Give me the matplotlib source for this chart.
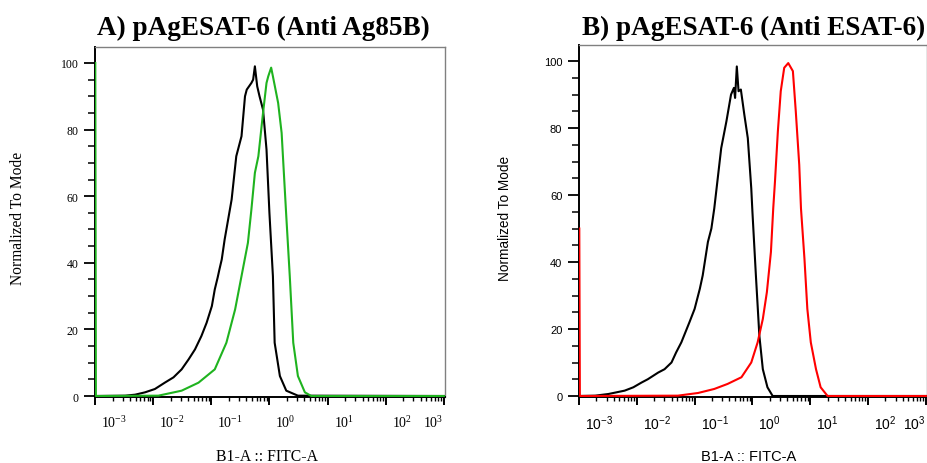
import numpy as np
import matplotlib
matplotlib.use("Agg")
import matplotlib.pyplot as plt
import matplotlib.transforms as mtransforms
from matplotlib.ticker import FixedLocator, LogLocator, NullFormatter, MultipleLocator

# ---------------- data (x as log10 of FITC intensity, y = % of mode) ----------------
a_ctrl_logx = [-3.0, -2.48, -2.31, -2.14, -1.97, -1.80, -1.65, -1.51, -1.39, -1.28, -1.17,
               -1.08, -0.99, -0.94, -0.89, -0.86, -0.82, -0.77, -0.74, -0.71, -0.65, -0.57,
               -0.48, -0.42, -0.39, -0.31, -0.28, -0.25, -0.21, -0.17, -0.11, -0.05, 0.0,
               0.06, 0.09, 0.18, 0.29, 0.49, 3.0]
a_ctrl_y = [0, 0.1, 0.4, 1.1, 2.1, 4, 5.6, 8, 11, 14, 18,
            22, 27, 32, 35.6, 38, 41, 47, 50, 53, 59, 72,
            78, 90, 92, 94, 95, 99, 93, 90, 86, 74, 55,
            36, 16, 6, 1.6, 0.1, 0]

a_ag85b_logx = [-2.995, -2.985, -1.91, -1.51, -1.22, -0.94, -0.74, -0.59, -0.48, -0.37, -0.31,
                -0.25, -0.19, -0.11, -0.05, -0.02, 0.03, 0.06, 0.15, 0.21, 0.29, 0.35,
                0.41, 0.49, 0.61, 0.72, 3.0]
a_ag85b_y = [100, 0, 0.1, 1.6, 4, 8, 16, 26, 36, 46, 56,
             67, 72, 85, 94, 96, 98.6, 96, 88, 79, 54, 36,
             16, 6, 1.1, 0, 0]

b_ctrl_logx = [-3.0, -2.72, -2.49, -2.21, -2.06, -1.92, -1.81, -1.63, -1.52, -1.40, -1.32,
               -1.23, -1.09, -1.0, -0.91, -0.86, -0.77, -0.71, -0.66, -0.60, -0.54, -0.45,
               -0.37, -0.32, -0.30, -0.27, -0.24, -0.20, -0.14, -0.08, -0.02, 0.0,
               0.06, 0.12, 0.18, 0.26, 0.35, 3.0]
b_ctrl_y = [0, 0.1, 0.6, 1.6, 2.6, 4, 5, 7, 8, 10, 13,
            16, 22, 26, 32, 36, 46, 50, 56, 65, 74, 82,
            90, 92, 89, 98.4, 91, 91.5, 84, 77, 62, 55,
            36, 18, 8, 2.6, 0, 0]

b_esat6_logx = [-2.995, -2.985, -1.29, -0.94, -0.66, -0.43, -0.19, -0.02, 0.09, 0.18, 0.25,
                0.32, 0.36, 0.39, 0.44, 0.49, 0.55, 0.62, 0.70, 0.75, 0.81, 0.84,
                0.90, 0.95, 1.01, 1.10, 1.18, 1.30, 3.0]
b_esat6_y = [50, 0, 0.1, 0.9, 2.1, 3.6, 5.6, 10, 16, 23, 31,
             43, 56, 64, 79, 91, 98, 99.4, 97, 85, 69, 56,
             41, 26, 16, 8, 2.6, 0, 0]

titles = ["A) pAgESAT-6 (Anti Ag85B)", "B) pAgESAT-6 (Anti ESAT-6)"]
xlabel = "B1-A :: FITC-A"
ylabel = "Normalized To Mode"
x_exponents = [-3, -2, -1, 0, 1, 2, 3]
y_major = [0, 20, 40, 60, 80, 100]

GREEN = "#1fb31f"
RED = "#ff0000"

fig = plt.figure(figsize=(9.28, 4.64), dpi=100)
W, H = 928, 464

def px_axes(x0, y_top, x1, y_bot):
    return fig.add_axes([x0 / W, 1 - y_bot / H, (x1 - x0) / W, (y_bot - y_top) / H])

axA = px_axes(95, 48, 445, 398)
axB = px_axes(579, 46, 927, 398)

panels = [
    (axA, a_ctrl_logx, a_ctrl_y, a_ag85b_logx, a_ag85b_y, GREEN, "Liberation Serif",
     8.5, 11.2, 11.3, 18, 267),
    (axB, b_ctrl_logx, b_ctrl_y, b_esat6_logx, b_esat6_y, RED, "Liberation Sans",
     8.0, 9.8, 10.5, 505, 749),
]

for ax, cx, cy, sx, sy, col, fam, yfs, ylfs, xlfs, ylx, xlx in panels:
    ax.plot(10.0 ** np.array(cx), cy, color="black", lw=1.5, zorder=3)
    ax.plot(10.0 ** np.array(sx), sy, color=col, lw=1.5, zorder=4)
    ax.set_xscale("log")
    ax.set_xlim(10 ** -3.0, 10 ** 3.02)
    ax.set_ylim(-0.3, 104.8)

    ax.tick_params(axis="y", which="major", direction="out", length=8, width=1.3, pad=4)
    ax.tick_params(axis="y", which="minor", direction="out", length=5, width=1.1)
    ax.tick_params(axis="x", which="major", direction="out", length=6, width=1.4, pad=6)
    ax.tick_params(axis="x", which="minor", direction="out", length=3, width=1.0)

    ax.xaxis.set_major_locator(FixedLocator([10.0 ** e for e in x_exponents]))
    ax.xaxis.set_minor_locator(LogLocator(base=10, subs=np.arange(2, 10), numticks=20))
    ax.xaxis.set_minor_formatter(NullFormatter())
    ax.set_xticklabels([r"$\mathregular{10^{%d}}$" % e for e in x_exponents],
                       family=fam, fontsize=10)
    labs = ax.get_xticklabels()
    shift = mtransforms.ScaledTranslation(6 / 100, 0, fig.dpi_scale_trans)
    for lb in labs[:-1]:
        lb.set_ha("left")
        lb.set_transform(lb.get_transform() + shift)
    labs[-1].set_ha("right")

    ax.yaxis.set_major_locator(FixedLocator(y_major))
    ax.yaxis.set_minor_locator(MultipleLocator(5))
    ax.set_yticklabels([str(v) for v in y_major], family=fam, fontsize=yfs)

    for s in ("left", "bottom"):
        ax.spines[s].set_color("black")
        ax.spines[s].set_linewidth(1.4)
    for s in ("top", "right"):
        ax.spines[s].set_color("#808080")
        ax.spines[s].set_linewidth(1.0)

    fig.text(ylx / W, 1 - 218 / H, ylabel, family=fam, fontsize=ylfs,
             rotation=90, ha="center", va="center")
    fig.text(xlx / W, 1 - 457 / H, xlabel, family=fam, fontsize=xlfs,
             ha="center", va="center")

fig.text(263 / W, 1 - 28 / H, titles[0], family="Liberation Serif", weight="bold",
         fontsize=19.5, ha="center", va="center")
fig.text(754 / W, 1 - 28 / H, titles[1], family="Liberation Serif", weight="bold",
         fontsize=19.5, ha="center", va="center")

fig.savefig("out.png", dpi=100)
